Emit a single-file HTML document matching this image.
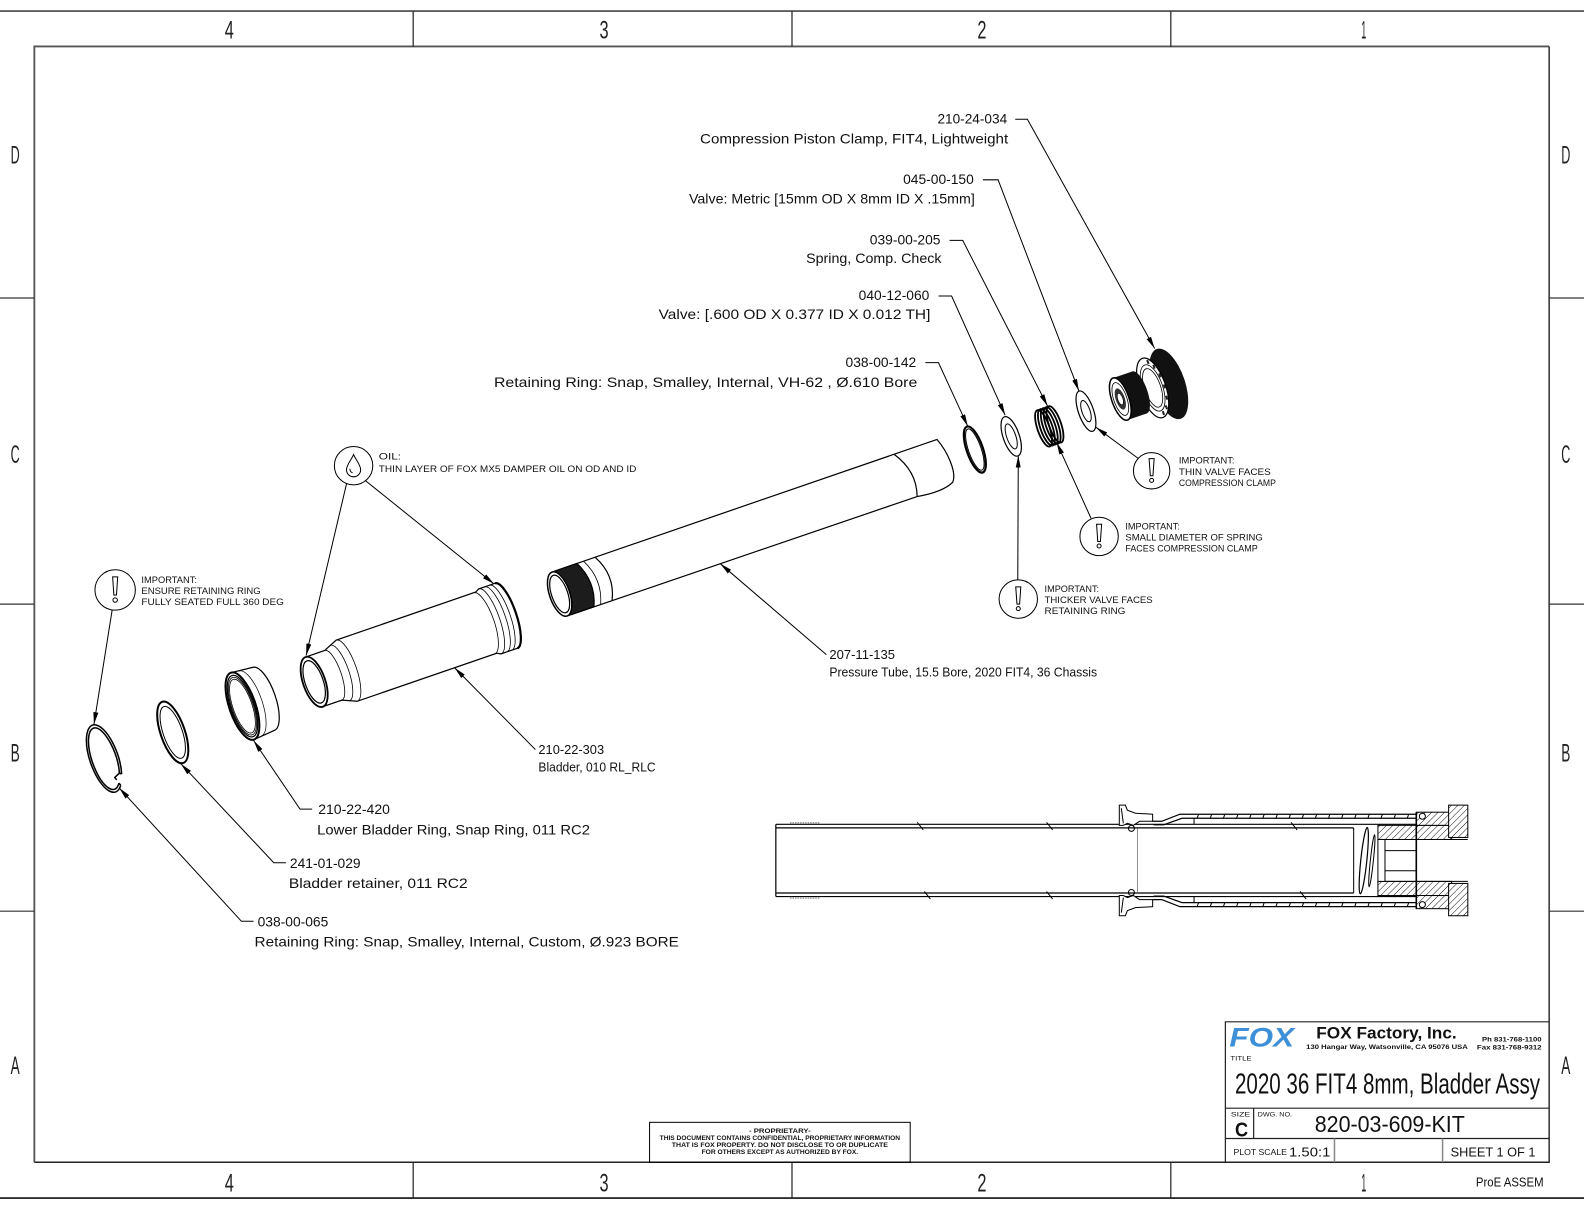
<!DOCTYPE html>
<html><head><meta charset="utf-8"><style>
html,body{margin:0;padding:0;background:#fff}
svg{display:block}
.t{font-family:"Liberation Sans",sans-serif;font-size:14px;fill:#111}
.i{font-family:"Liberation Sans",sans-serif;font-size:9.5px;fill:#111}
.m{font-family:"Liberation Sans",sans-serif;font-size:12.5px;fill:#111}
.g{font-family:"Liberation Sans",sans-serif;font-size:25px;fill:#222}
</style></head><body>
<svg width="1584" height="1224" viewBox="0 0 1584 1224" xmlns="http://www.w3.org/2000/svg">
<defs>
<marker id="a" markerUnits="userSpaceOnUse" markerWidth="12" markerHeight="5" refX="12" refY="2.5" orient="auto" viewBox="0 0 12 5"><path d="M0,0 L12,2.5 L0,5 Z" fill="#000"/></marker>
<pattern id="h" patternUnits="userSpaceOnUse" width="4.5" height="4.5" patternTransform="rotate(45)"><rect width="4.5" height="4.5" fill="#fff"/><line x1="0" y1="0" x2="0" y2="4.5" stroke="#000" stroke-width="0.9"/></pattern>
</defs>
<rect width="1584" height="1224" fill="#fff"/>
<g transform="scale(1.0102)">

<!-- BORDER -->
<g stroke="#444" stroke-width="1.6" fill="none">
<line x1="0" y1="11" x2="1568" y2="11"/>
<line x1="0" y1="1186" x2="1568" y2="1186" stroke="#111"/>
<path d="M34,1150.5 V46 H1533.5" stroke="#555" stroke-width="1.8"/>
<path d="M1533.5,46 V1150.5 H34" stroke="#222" stroke-width="1.4"/>
<path d="M409,11 V46 M784,11 V46 M1159,11 V46 M409,1150.5 V1186 M784,1150.5 V1186 M1159,1150.5 V1186" stroke="#222" stroke-width="1.2"/>
<path d="M0,295 H34 M0,598 H34 M0,902 H34 M1533.5,295 H1568 M1533.5,598 H1568 M1533.5,902 H1568" stroke="#333" stroke-width="1.2"/>
</g>
<g text-anchor="middle">
<text class="g" x="227" y="38" textLength="9" lengthAdjust="spacingAndGlyphs">4</text>
<text class="g" x="598" y="38" textLength="9" lengthAdjust="spacingAndGlyphs">3</text>
<text class="g" x="972" y="38" textLength="9" lengthAdjust="spacingAndGlyphs">2</text>
<text class="g" x="1350" y="38" textLength="5" lengthAdjust="spacingAndGlyphs">1</text>
<text class="g" x="227" y="1179.5" textLength="9" lengthAdjust="spacingAndGlyphs">4</text>
<text class="g" x="598" y="1179.5" textLength="9" lengthAdjust="spacingAndGlyphs">3</text>
<text class="g" x="972" y="1179.5" textLength="9" lengthAdjust="spacingAndGlyphs">2</text>
<text class="g" x="1350" y="1179.5" textLength="5" lengthAdjust="spacingAndGlyphs">1</text>
<text class="g" x="15" y="162" textLength="9" lengthAdjust="spacingAndGlyphs">D</text>
<text class="g" x="15" y="458.5" textLength="9" lengthAdjust="spacingAndGlyphs">C</text>
<text class="g" x="15" y="754" textLength="9" lengthAdjust="spacingAndGlyphs">B</text>
<text class="g" x="15" y="1063" textLength="9" lengthAdjust="spacingAndGlyphs">A</text>
<text class="g" x="1550" y="162" textLength="9" lengthAdjust="spacingAndGlyphs">D</text>
<text class="g" x="1550" y="458.5" textLength="9" lengthAdjust="spacingAndGlyphs">C</text>
<text class="g" x="1550" y="754" textLength="9" lengthAdjust="spacingAndGlyphs">B</text>
<text class="g" x="1550" y="1063" textLength="9" lengthAdjust="spacingAndGlyphs">A</text>
</g>

<!-- TOP LABELS -->
<g text-anchor="end">
<text class="t" x="997" y="122.5" textLength="69" lengthAdjust="spacingAndGlyphs">210-24-034</text>
<text class="t" x="998" y="142" textLength="305" lengthAdjust="spacingAndGlyphs">Compression Piston Clamp, FIT4, Lightweight</text>
<text class="t" x="964" y="182" textLength="70" lengthAdjust="spacingAndGlyphs">045-00-150</text>
<text class="t" x="965" y="201.5" textLength="283" lengthAdjust="spacingAndGlyphs">Valve: Metric [15mm OD X 8mm ID X .15mm]</text>
<text class="t" x="931" y="242" textLength="70" lengthAdjust="spacingAndGlyphs">039-00-205</text>
<text class="t" x="932" y="260.5" textLength="134" lengthAdjust="spacingAndGlyphs">Spring, Comp. Check</text>
<text class="t" x="920" y="297" textLength="70" lengthAdjust="spacingAndGlyphs">040-12-060</text>
<text class="t" x="921" y="316" textLength="269" lengthAdjust="spacingAndGlyphs">Valve: [.600 OD X 0.377 ID X 0.012 TH]</text>
<text class="t" x="907" y="363.5" textLength="70" lengthAdjust="spacingAndGlyphs">038-00-142</text>
<text class="t" x="908" y="383" textLength="419" lengthAdjust="spacingAndGlyphs">Retaining Ring: Snap, Smalley, Internal, VH-62 , Ø.610 Bore</text>
</g>

<!-- LEADERS -->
<g stroke="#000" stroke-width="1" fill="none">
<path d="M1005,118 H1017 L1143,345" marker-end="url(#a)"/>
<path d="M973,178 H988 L1068,387" marker-end="url(#a)"/>
<path d="M940,238 H953 L1037,402" marker-end="url(#a)"/>
<path d="M929,293 H942 L995,411" marker-end="url(#a)"/>
<path d="M916,359 H929 L958,422" marker-end="url(#a)"/>
<path d="M1127,454 L1085,423" marker-end="url(#a)"/>
<path d="M1080,513 L1046,438" marker-end="url(#a)"/>
<path d="M1007.5,574 L1008,451" marker-end="url(#a)"/>
<path d="M343,479 L303,649" marker-end="url(#a)"/>
<path d="M362,476 L489,578" marker-end="url(#a)"/>
<path d="M111,604 L93,717" marker-end="url(#a)"/>
<path d="M818,648 L713,558" marker-end="url(#a)"/>
<path d="M530,742 L450,661" marker-end="url(#a)"/>
<path d="M309,801 H297 L251,733" marker-end="url(#a)"/>
<path d="M283,854 H271 L179,756" marker-end="url(#a)"/>
<path d="M251,912 H239 L118,780" marker-end="url(#a)"/>
</g>

<!-- NOTE CIRCLES -->
<g stroke="#000" stroke-width="1" fill="none">
<g transform="translate(1140,466)"><circle r="18" fill="#fff"/><path d="M-2.5,-12 L2.5,-12 L1.3,5 L-1.3,5 Z"/><circle cy="9.5" r="2"/></g>
<g transform="translate(1088,531)"><circle r="19" fill="#fff"/><path d="M-2.5,-12 L2.5,-12 L1.3,5 L-1.3,5 Z"/><circle cy="9.5" r="2"/></g>
<g transform="translate(1008,593)"><circle r="19" fill="#fff"/><path d="M-2.5,-12 L2.5,-12 L1.3,5 L-1.3,5 Z"/><circle cy="9.5" r="2"/></g>
<g transform="translate(114,584)"><circle r="20" fill="#fff"/><path d="M-2.5,-13 L2.5,-13 L1.3,5 L-1.3,5 Z"/><circle cy="10" r="2.2"/></g>
<g transform="translate(350,461)"><circle r="19" fill="#fff"/><path d="M0,-11 C2,-6 7,-1 7,4 A7,7 0 0 1 -7,4 C-7,-1 -2,-6 0,-11 Z"/><path d="M-3.5,3 A3.5,3.5 0 0 0 -1,7"/></g>
</g>
<text class="i" x="1167" y="459" textLength="55" lengthAdjust="spacingAndGlyphs">IMPORTANT:</text>
<text class="i" x="1167" y="470" textLength="91" lengthAdjust="spacingAndGlyphs">THIN VALVE FACES</text>
<text class="i" x="1167" y="481" textLength="96" lengthAdjust="spacingAndGlyphs">COMPRESSION CLAMP</text>
<text class="i" x="1114" y="524" textLength="54" lengthAdjust="spacingAndGlyphs">IMPORTANT:</text>
<text class="i" x="1114" y="535" textLength="136" lengthAdjust="spacingAndGlyphs">SMALL DIAMETER OF SPRING</text>
<text class="i" x="1114" y="546" textLength="131" lengthAdjust="spacingAndGlyphs">FACES COMPRESSION CLAMP</text>
<text class="i" x="1034" y="586" textLength="54" lengthAdjust="spacingAndGlyphs">IMPORTANT:</text>
<text class="i" x="1034" y="597" textLength="107" lengthAdjust="spacingAndGlyphs">THICKER VALVE FACES</text>
<text class="i" x="1034" y="608" textLength="80" lengthAdjust="spacingAndGlyphs">RETAINING RING</text>
<text class="i" x="140" y="577" textLength="55" lengthAdjust="spacingAndGlyphs">IMPORTANT:</text>
<text class="i" x="140" y="588" textLength="118" lengthAdjust="spacingAndGlyphs">ENSURE RETAINING RING</text>
<text class="i" x="140" y="599" textLength="141" lengthAdjust="spacingAndGlyphs">FULLY SEATED FULL 360 DEG</text>
<text class="i" x="375" y="455" textLength="22" lengthAdjust="spacingAndGlyphs">OIL:</text>
<text class="i" x="375" y="467" textLength="255" lengthAdjust="spacingAndGlyphs">THIN LAYER OF FOX MX5 DAMPER OIL ON OD AND ID</text>

<!-- LOWER LABELS -->
<text class="m" x="821" y="652.5" textLength="65" lengthAdjust="spacingAndGlyphs">207-11-135</text>
<text class="m" x="821" y="669.5" textLength="265" lengthAdjust="spacingAndGlyphs">Pressure Tube, 15.5 Bore, 2020 FIT4, 36 Chassis</text>
<text class="m" x="533" y="746.5" textLength="65" lengthAdjust="spacingAndGlyphs">210-22-303</text>
<text class="m" x="533" y="763.5" textLength="116" lengthAdjust="spacingAndGlyphs">Bladder, 010 RL_RLC</text>
<text class="t" x="315" y="806" textLength="71" lengthAdjust="spacingAndGlyphs">210-22-420</text>
<text class="t" x="314" y="826" textLength="270" lengthAdjust="spacingAndGlyphs">Lower Bladder Ring, Snap Ring, 011 RC2</text>
<text class="t" x="287" y="859" textLength="70" lengthAdjust="spacingAndGlyphs">241-01-029</text>
<text class="t" x="286" y="879" textLength="177" lengthAdjust="spacingAndGlyphs">Bladder retainer, 011 RC2</text>
<text class="t" x="255" y="917" textLength="70" lengthAdjust="spacingAndGlyphs">038-00-065</text>
<text class="t" x="252" y="937" textLength="420" lengthAdjust="spacingAndGlyphs">Retaining Ring: Snap, Smalley, Internal, Custom, Ø.923 BORE</text>

<!-- PRESSURE TUBE -->
<g transform="translate(554,588) rotate(-19)" stroke="#000" fill="none" stroke-width="1.2">
<path d="M0,-23 H403 C409,-8 411,14 404,22 Q392,28 366,24 L0,23 Z" fill="#fff"/>
<path d="M358,-23 Q374,0 366,24"/>
<path d="M45,-23 Q58,0 47,23"/>
<path d="M33,-23 Q45,0 35,23" stroke-width="0.8"/>
<path d="M4,-23 H26 Q38,0 28,23 H4 Z" fill="#1c1c1c"/>
<ellipse cx="0" cy="0" rx="10" ry="23" fill="#fff" stroke-width="1.5"/>
<ellipse cx="0" cy="0" rx="8" ry="19.5"/>
</g>

<!-- BLADDER -->
<g transform="translate(311,675) rotate(-19)" stroke="#000" fill="none" stroke-width="1.2">
<path d="M0,-26 H20 L34,-32 H180 L184,-34 H201 A10,34 0 0 1 201,34 H184 L180,32 H34 L20,26 H0 Z" fill="#fff"/>
<path d="M20,-26 A8,26 0 0 1 20,26" stroke-width="0.8"/>
<path d="M27,-29 A9,29 0 0 1 27,29" stroke-width="0.8"/>
<path d="M34,-32 A10,32 0 0 1 34,32" stroke-width="0.8"/>
<path d="M178,-32 A10,32 0 0 1 178,32" stroke-width="0.8"/>
<path d="M184,-34 A10,34 0 0 1 184,34" stroke-width="0.8"/>
<path d="M190,-34 A10,34 0 0 1 190,34" stroke-width="0.8"/>
<path d="M195,-34 A10,34 0 0 1 195,34" stroke-width="0.8"/>
<path d="M201,-34 A10,34 0 0 1 201,34" stroke-width="2.2"/>
<ellipse cx="0" cy="0" rx="11" ry="26" fill="#fff" stroke-width="1.8"/>
<ellipse cx="0" cy="0" rx="9" ry="22"/>
</g>

<!-- LOWER BLADDER RING -->
<g transform="translate(240,699) rotate(-19)" stroke="#000" fill="none" stroke-width="1.2">
<path d="M0,-35 L22,-33 A12,33 0 0 1 22,33 L0,35 Z" fill="#fff"/>
<path d="M8,-34 A12,34 0 0 1 8,34" stroke-width="0.7"/>
<ellipse rx="13" ry="35" fill="#fff" stroke-width="2"/>
<ellipse rx="11.5" ry="32"/>
<ellipse rx="10.5" ry="30" stroke-width="0.8"/>
<ellipse rx="9.5" ry="28" stroke-width="0.8"/>
</g>

<!-- WASHER -->
<g transform="translate(171,725) rotate(-19)" stroke="#000" fill="none">
<ellipse rx="12" ry="32" stroke-width="2"/>
<ellipse rx="9.5" ry="27" stroke-width="1"/>
</g>

<!-- C-RING -->
<g transform="translate(103,751) rotate(-19)" stroke="#000" fill="none" stroke-width="1.5">
<path d="M7,30.3 A14,35 0 1 1 11.5,20.1"/>
<path d="M6,27.7 A12,32 0 1 1 9.8,18.4"/>
<path d="M11.5,20.1 L9.8,18.4 L4,21 L5,24 M7,30.3 L6,27.7"/>
</g>

<!-- RIGHT CLUSTER -->
<g stroke="#000" fill="none">
<ellipse cx="0" cy="0" rx="8" ry="24" stroke-width="2.2" transform="translate(965,445) rotate(-19)"/>
<ellipse cx="0" cy="0" rx="6.3" ry="21.5" stroke-width="1" transform="translate(965,445) rotate(-19)"/>
<g transform="translate(1001,432) rotate(-19)"><ellipse rx="8" ry="20.5" stroke-width="1.2" fill="#fff"/><ellipse rx="4.5" ry="13" stroke-width="1"/></g>
<g transform="translate(1033,424) rotate(-19)" stroke-width="1.8">
<ellipse cx="0" rx="6" ry="19"/><ellipse cx="3" rx="6" ry="19"/><ellipse cx="6" rx="6" ry="19"/><ellipse cx="9" rx="6" ry="19"/><ellipse cx="12" rx="6" ry="19"/>
</g>
<g transform="translate(1075,407) rotate(-19)"><ellipse rx="7.5" ry="21" stroke-width="1.2" fill="#fff"/><ellipse rx="4" ry="11" stroke-width="1"/></g>
<!-- clamp -->
<ellipse cx="0" cy="0" rx="16" ry="36.5" fill="#111" stroke="none" transform="translate(1157,380) rotate(-19)"/>
<g transform="translate(1141,384) rotate(-19)">
<ellipse rx="13" ry="31" fill="#fff" stroke-width="1.2"/>
<ellipse rx="10" ry="24" stroke-width="0.8"/>
<g fill="#222" stroke="none">
<rect x="2.9" y="-27.8" width="2" height="4"/><rect x="7.1" y="-21.4" width="2" height="4"/><rect x="9.8" y="-11.4" width="2" height="4"/><rect x="10.5" y="0.4" width="2" height="4"/><rect x="9" y="11.7" width="2" height="4"/><rect x="5.6" y="20.5" width="2" height="4"/><rect x="1" y="25" width="2" height="4"/>
</g>
<ellipse rx="8" ry="20" fill="#fff" stroke-width="0.8"/>
</g>
<g transform="translate(1109,395) rotate(-19)">
<path d="M0,-22 H20 V22 H0 Z" fill="#111" stroke="none"/>
<ellipse cx="20" rx="8" ry="22" fill="#111" stroke="none"/>
<ellipse cx="0" rx="8.5" ry="22" fill="#fff" stroke-width="1.5"/>
<ellipse rx="6.5" ry="17" stroke-width="0.8"/>
<ellipse rx="4.5" ry="11" fill="#333" stroke="none"/>
<ellipse rx="2.5" ry="6" fill="#fff" stroke-width="0.6"/>
</g>
</g>

<!-- CROSS SECTION -->
<g stroke="#000" fill="none" stroke-width="1">
<path d="M768,816 H1402 M768,819.5 H1340 M768,884 H1340 M768,887.5 H1402 M768,816 V887.5" stroke-width="1.2"/>
<path d="M1126,820 V884" stroke="#777" stroke-width="0.8"/>
<path d="M782,814.5 H812 M782,889 H812" stroke="#777" stroke-dasharray="1.5 1"/>
<path d="M908,814 L914,821.5 M1036,814 L1042,821.5 M1278,814 L1284,821.5 M915,882.5 L921,890 M1036,882.5 L1042,890 M1287,882.5 L1293,890"/>
<!-- flanges -->
<path d="M1108,797 L1114,797 L1116,802 L1124,805 L1141,806 L1141,813 L1128,813 L1122,817 L1116,815 L1112,817 L1108,817 Z" fill="#fff"/>
<path d="M1110,800 L1112,815"/>
<circle cx="1120" cy="820" r="3"/>
<path d="M1108,906.5 L1114,906.5 L1116,901.5 L1124,898.5 L1141,897.5 L1141,890.5 L1128,890.5 L1122,886.5 L1116,888.5 L1112,886.5 L1108,886.5 Z" fill="#fff"/>
<path d="M1110,903.5 L1112,888.5"/>
<circle cx="1120" cy="883.5" r="3"/>
<!-- housing -->
<path d="M1141,813 L1150,813 L1168,806 H1402 M1142,816.5 L1152,816.5 L1170,810 H1402" stroke-width="1.2"/>
<path d="M1141,890.5 L1150,890.5 L1168,897.5 H1402 M1142,887 L1152,887 L1170,893.5 H1402" stroke-width="1.2"/>
<path d="M1182,810 V816 M1182,887 V893.5"/>
<path d="M1185,810 l1.5,-4 M1198,810 l1.5,-4 M1211,810 l1.5,-4 M1224,810 l1.5,-4 M1237,810 l1.5,-4 M1250,810 l1.5,-4 M1263,810 l1.5,-4 M1276,810 l1.5,-4 M1289,810 l1.5,-4 M1302,810 l1.5,-4 M1315,810 l1.5,-4 M1328,810 l1.5,-4 M1341,810 l1.5,-4 M1354,810 l1.5,-4 M1367,810 l1.5,-4 M1380,810 l1.5,-4 M1393,810 l1.5,-4"/>
<path d="M1185,897.5 l1.5,-4 M1198,897.5 l1.5,-4 M1211,897.5 l1.5,-4 M1224,897.5 l1.5,-4 M1237,897.5 l1.5,-4 M1250,897.5 l1.5,-4 M1263,897.5 l1.5,-4 M1276,897.5 l1.5,-4 M1289,897.5 l1.5,-4 M1302,897.5 l1.5,-4 M1315,897.5 l1.5,-4 M1328,897.5 l1.5,-4 M1341,897.5 l1.5,-4 M1354,897.5 l1.5,-4 M1367,897.5 l1.5,-4 M1380,897.5 l1.5,-4 M1393,897.5 l1.5,-4"/>
<path d="M1340,819.5 V884"/>
<ellipse cx="1350" cy="852" rx="3" ry="33" transform="rotate(6 1350 852)" stroke-width="1.2"/>
<ellipse cx="1358" cy="852" rx="1.5" ry="26" transform="rotate(6 1358 852)"/>
<!-- piston & cap -->
<rect x="1364" y="817" width="73" height="14" fill="url(#h)"/>
<rect x="1364" y="872.5" width="73" height="14" fill="url(#h)"/>
<rect x="1402" y="804" width="35" height="13" fill="url(#h)"/>
<rect x="1402" y="886.5" width="35" height="13" fill="url(#h)"/>
<rect x="1364" y="831" width="7" height="41.5" fill="#fff"/>
<path d="M1371,831 H1453 M1371,872.5 H1453 M1371,842 H1402 M1371,862 H1402"/>
<rect x="1434" y="797" width="19" height="32" fill="url(#h)"/>
<rect x="1434" y="874.5" width="19" height="32" fill="url(#h)"/>
<path d="M1402,804 V899.5" stroke-width="1.6"/>
<circle cx="1408" cy="808" r="3" fill="#fff"/>
<circle cx="1408" cy="895.5" r="3" fill="#fff"/>
</g>

<!-- PROPRIETARY -->
<rect x="643" y="1111" width="258" height="39.5" fill="none" stroke="#000" stroke-width="1"/>
<g font-family="Liberation Sans, sans-serif" font-size="6.5" font-weight="bold" fill="#111" text-anchor="middle">
<text x="772" y="1121.5" textLength="61" lengthAdjust="spacingAndGlyphs">- PROPRIETARY-</text>
<text x="772" y="1128.5" textLength="238" lengthAdjust="spacingAndGlyphs">THIS DOCUMENT CONTAINS CONFIDENTIAL, PROPRIETARY INFORMATION</text>
<text x="772" y="1135.5" textLength="214" lengthAdjust="spacingAndGlyphs">THAT IS FOX PROPERTY.  DO NOT DISCLOSE TO OR DUPLICATE</text>
<text x="772" y="1142.5" textLength="155" lengthAdjust="spacingAndGlyphs">FOR OTHERS EXCEPT AS AUTHORIZED BY FOX.</text>
</g>

<!-- TITLE BLOCK -->
<g stroke="#222" stroke-width="1.2" fill="none">
<path d="M1213,1150.5 V1011.5 H1533.5"/>
<path d="M1213,1097 H1533.5 M1213,1127 H1533.5 M1241,1097 V1127"/>
<path d="M1321,1127 V1150.5 M1428,1127 V1150.5" stroke="#888" stroke-width="1.5"/>
</g>
<g font-family="Liberation Sans, sans-serif" fill="#111">
<text x="1217" y="1036" font-size="27" font-weight="bold" font-style="italic" fill="#3d8fd8" textLength="64" lengthAdjust="spacingAndGlyphs">FOX</text>
<text x="1303" y="1028" font-size="16" font-weight="bold" textLength="139" lengthAdjust="spacingAndGlyphs">FOX Factory, Inc.</text>
<text x="1293" y="1038.5" font-size="6.5" font-weight="bold" textLength="160" lengthAdjust="spacingAndGlyphs">130 Hangar Way, Watsonville, CA 95076 USA</text>
<text x="1467" y="1031" font-size="6.5" font-weight="bold" textLength="59" lengthAdjust="spacingAndGlyphs">Ph 831-768-1100</text>
<text x="1462" y="1039" font-size="6.5" font-weight="bold" textLength="64" lengthAdjust="spacingAndGlyphs">Fax 831-768-9312</text>
<text x="1218" y="1050" font-size="6" textLength="21" lengthAdjust="spacingAndGlyphs">TITLE</text>
<text x="1222.5" y="1082.5" font-size="28" textLength="302" lengthAdjust="spacingAndGlyphs">2020 36 FIT4 8mm, Bladder Assy</text>
<text x="1218.5" y="1105" font-size="6.5" textLength="19" lengthAdjust="spacingAndGlyphs">SIZE</text>
<text x="1222.5" y="1125" font-size="20" font-weight="bold" textLength="13" lengthAdjust="spacingAndGlyphs">C</text>
<text x="1245" y="1105" font-size="6.5" textLength="34" lengthAdjust="spacingAndGlyphs">DWG. NO.</text>
<text x="1301.5" y="1120.5" font-size="23" textLength="148.5" lengthAdjust="spacingAndGlyphs">820-03-609-KIT</text>
<text x="1221" y="1143.5" font-size="8" textLength="53" lengthAdjust="spacingAndGlyphs">PLOT SCALE</text>
<text x="1276" y="1145" font-size="13" textLength="41" lengthAdjust="spacingAndGlyphs">1.50:1</text>
<text x="1436" y="1145" font-size="12.5" textLength="84" lengthAdjust="spacingAndGlyphs">SHEET 1 OF 1</text>
<text x="1461" y="1174.5" font-size="12.5" textLength="67" lengthAdjust="spacingAndGlyphs">ProE ASSEM</text>
</g>

</g>
</svg>
</body></html>
